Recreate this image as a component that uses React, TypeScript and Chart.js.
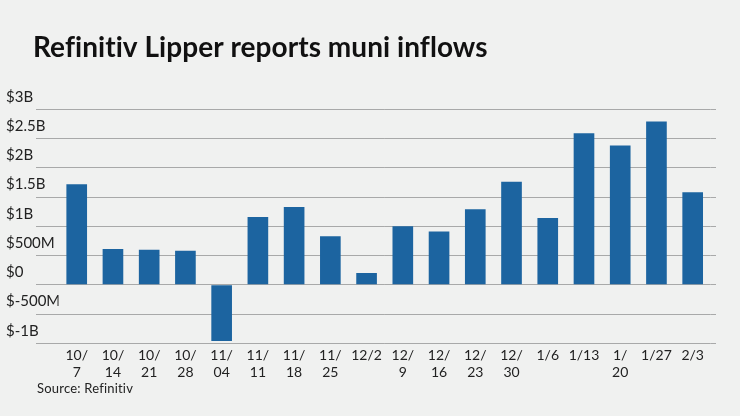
import { useEffect, useRef } from "react";
import { Chart, registerables } from "chart.js";

Chart.register(...registerables);

const categories: string[][] = [
  ["10/", "7"], ["10/", "14"], ["10/", "21"], ["10/", "28"], ["11/", "04"],
  ["11/", "11"], ["11/", "18"], ["11/", "25"], ["12/2"], ["12/", "9"],
  ["12/", "16"], ["12/", "23"], ["12/", "30"], ["1/6"], ["1/13"],
  ["1/", "20"], ["1/27"], ["2/3"],
];
const inflowsBillions: number[] = [
  1.72, 0.61, 0.60, 0.58, -0.96, 1.16, 1.33, 0.83, 0.20, 1.00,
  0.91, 1.29, 1.76, 1.14, 2.59, 2.38, 2.79, 1.58,
];
const yTickValues: number[] = [-1, -0.5, 0, 0.5, 1, 1.5, 2, 2.5, 3];
const yTickLabels: string[] = ["$-1B", "$-500M", "$0", "$500M", "$1B", "$1.5B", "$2B", "$2.5B", "$3B"];
const titleText = "Refinitiv Lipper reports muni inflows";
const sourceText = "Source: Refinitiv";

const BG = "#f0f1f0";
const BAR = "#1c64a0";
const GRID = "#a8a9a9";
const FONT = "Lato, 'Open Sans', sans-serif";

const textPlugin = {
  id: "textPlugin",
  beforeDraw(chart: any) {
    const ctx = chart.ctx;
    ctx.save();
    ctx.fillStyle = BG;
    ctx.fillRect(0, 0, chart.width, chart.height);
    ctx.restore();
  },
  afterDraw(chart: any) {
    const ctx = chart.ctx;
    ctx.save();
    try { ctx.textRendering = "optimizeSpeed"; } catch (e) {}
    try { ctx.letterSpacing = "0.05px"; } catch (e) {}
    ctx.fillStyle = "#111111";
    ctx.font = `bold 28px ${FONT}`;
    ctx.textBaseline = "alphabetic";
    ctx.textAlign = "left";
    ctx.fillText(titleText, 33, 57);
    try { ctx.letterSpacing = "0.2px"; } catch (e) {}
    ctx.fillStyle = "#222222";
    ctx.font = `13px ${FONT}`;
    ctx.textBaseline = "middle";
    ctx.fillText(sourceText, 37, 389);
    ctx.restore();
  },
};

export default function App() {
  const canvasRef = useRef<HTMLCanvasElement | null>(null);

  useEffect(() => {
    if (!canvasRef.current) return;
    const chart = new Chart(canvasRef.current, {
      type: "bar",
      data: {
        labels: categories,
        datasets: [
          {
            data: inflowsBillions,
            backgroundColor: BAR,
            borderWidth: 0,
            categoryPercentage: 1,
            barPercentage: 0.57,
          },
        ],
      },
      options: {
        animation: false,
        responsive: false,
        devicePixelRatio: 1,
        layout: { padding: { left: 6, right: 24, top: 109.3, bottom: 32.7 } },
        plugins: {
          legend: { display: false },
          tooltip: { enabled: false },
          title: { display: false },
        },
        scales: {
          x: {
            grid: { display: false },
            border: { display: false },
            ticks: {
              color: "#222222",
              font: { family: FONT, size: 14, lineHeight: 1.2 },
              padding: -4,
              maxRotation: 0,
              autoSkip: false,
            },
            afterFit: (scale: any) => {
              scale.height = 40;
            },
          },
          y: {
            position: "left",
            min: -1,
            max: 3,
            border: { display: false },
            grid: { color: GRID, lineWidth: 1, drawTicks: true, tickLength: 22.6 },
            ticks: {
              stepSize: 0.5,
              color: "#222222",
              font: { family: FONT, size: 15 },
              crossAlign: "far",
              labelOffset: -12.5,
              padding: 0,
              callback: (v: any) => {
                const i = yTickValues.indexOf(Number(v));
                return i >= 0 ? yTickLabels[i] : "";
              },
            },
            afterFit: (scale: any) => {
              scale.width = 52.6;
            },
          },
          y2: {
            position: "right",
            min: -1,
            max: 3,
            border: { display: false },
            grid: { color: GRID, lineWidth: 1, drawOnChartArea: false, drawTicks: true, tickLength: 5.2 },
            ticks: { display: false, stepSize: 0.5 },
            afterFit: (scale: any) => {
              scale.width = 5.2;
            },
          },
        },
      },
      plugins: [textPlugin],
    });
    return () => chart.destroy();
  }, []);

  return (
    <div style={{ position: "fixed", left: 0, top: 0, width: 740, height: 416, background: BG }}>
      <canvas ref={canvasRef} width={740} height={416} style={{ display: "block", width: 740, height: 416 }} />
    </div>
  );
}
